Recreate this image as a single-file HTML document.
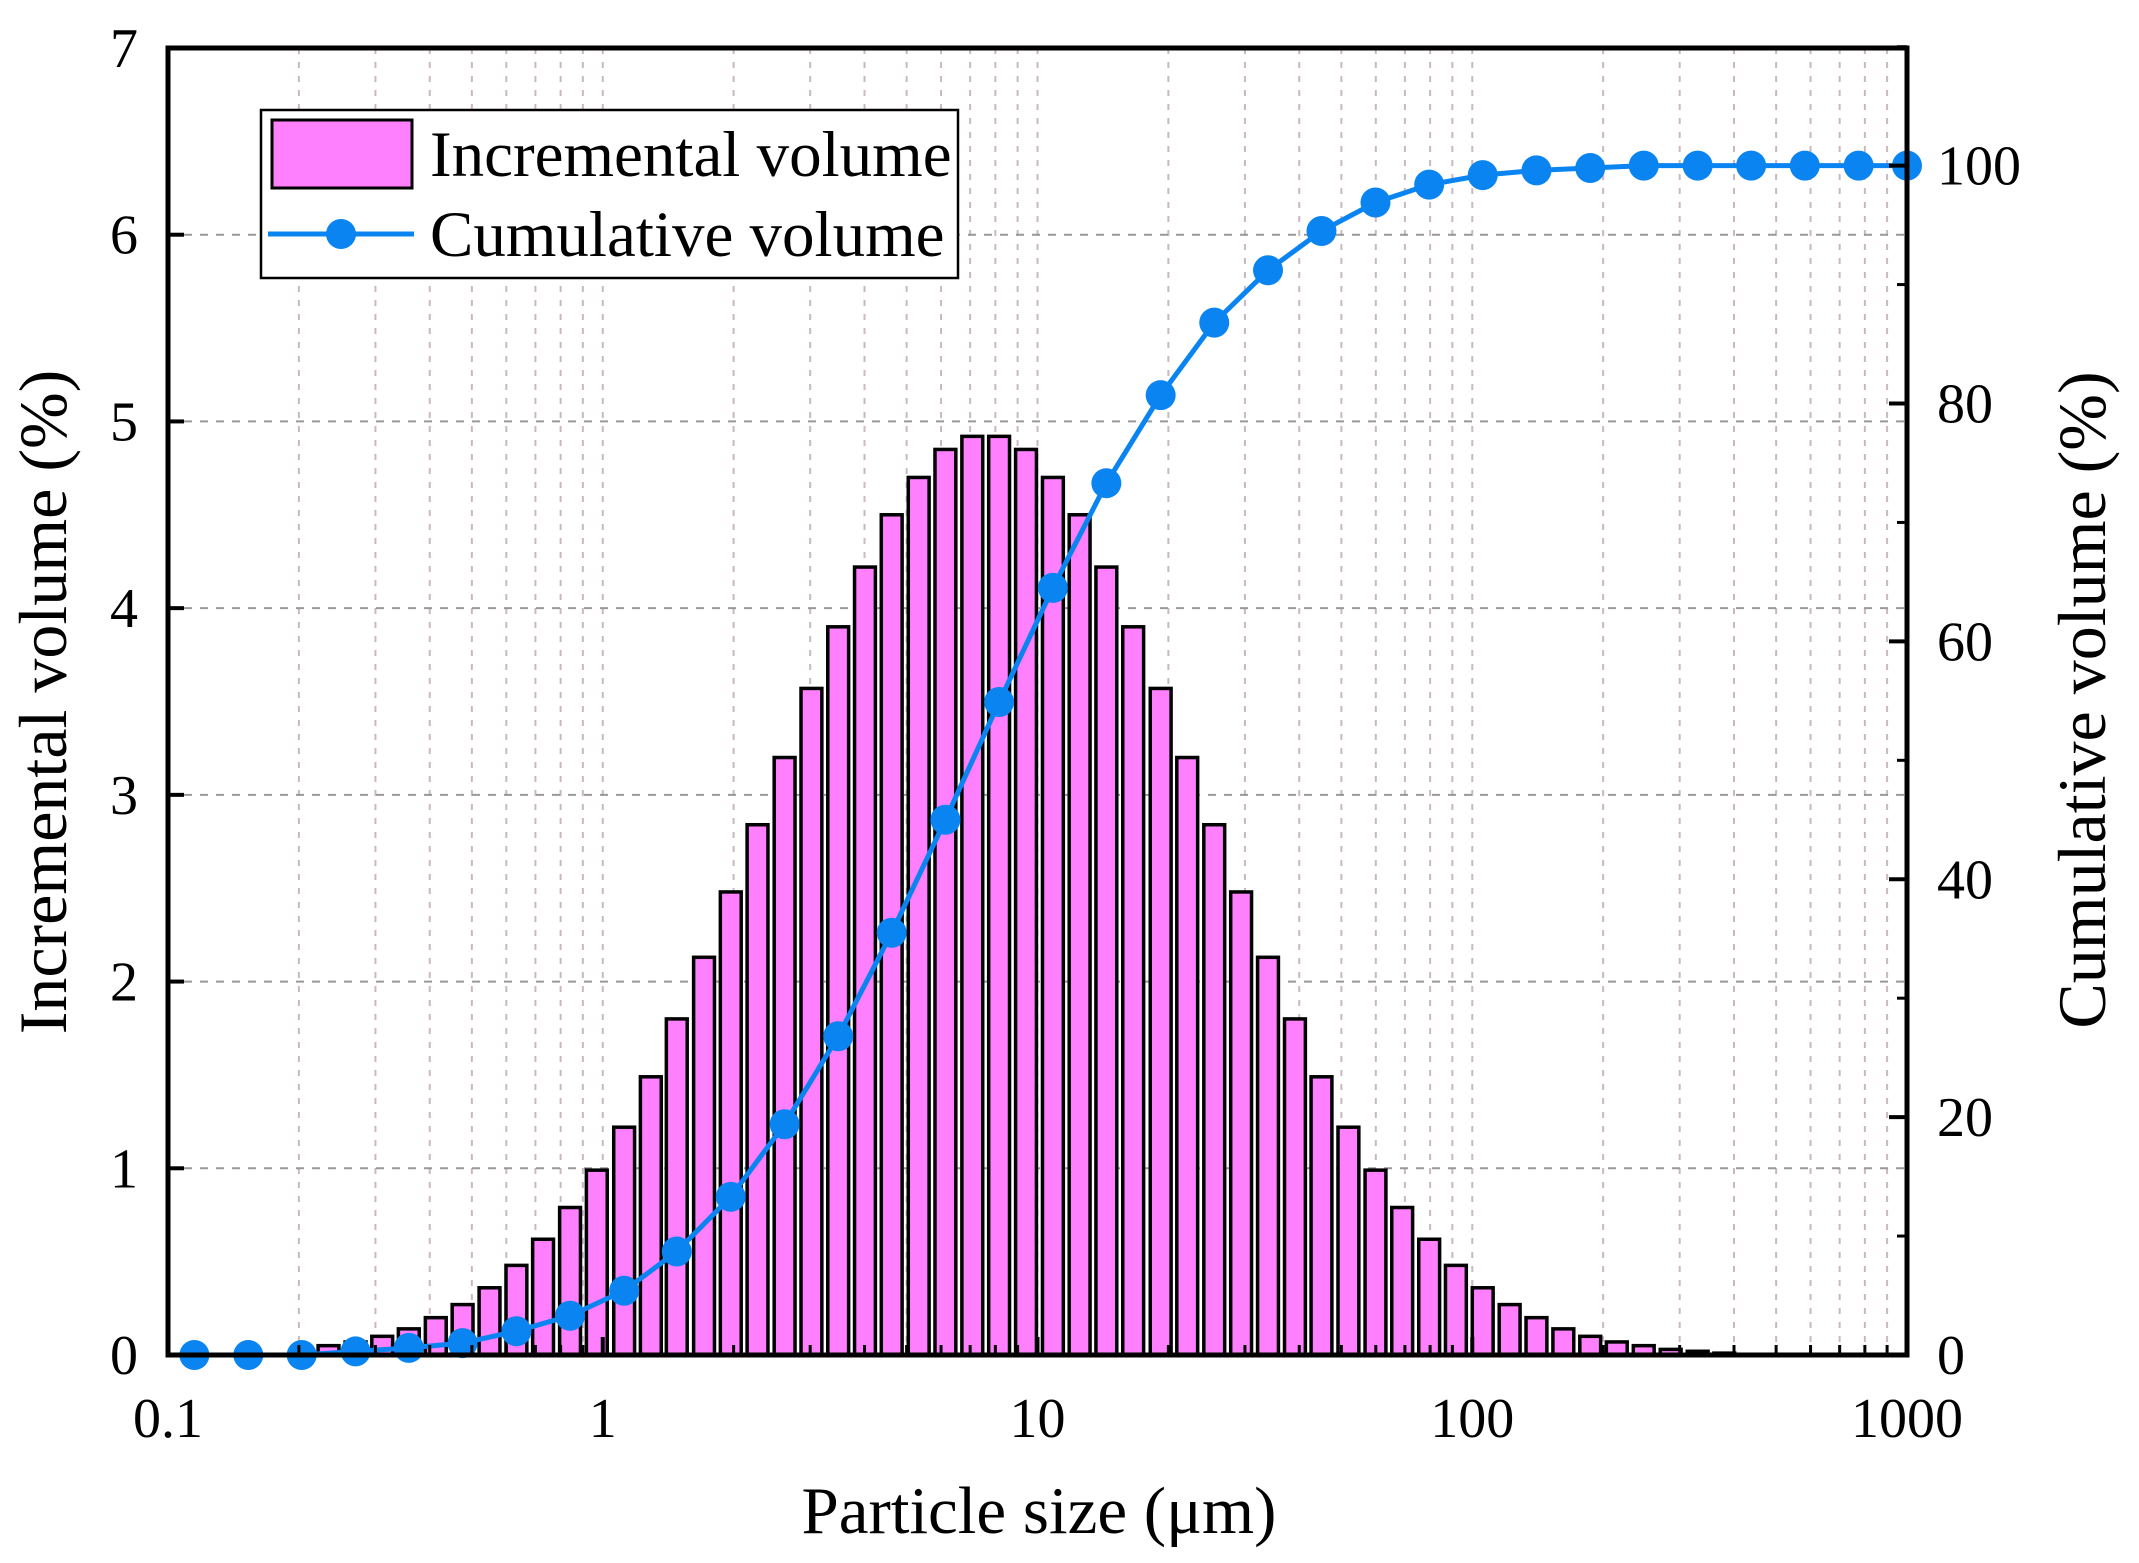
<!DOCTYPE html>
<html><head><meta charset="utf-8"><style>
body{margin:0;background:#fff}
svg{display:block;font-family:"Liberation Serif",serif}
</style></head><body>
<svg id="chart" width="2139" height="1563" viewBox="0 0 2139 1563" xmlns="http://www.w3.org/2000/svg">
<g id="grid"></g>
<g id="bars"></g>
<g id="line"></g>
<g id="axes"></g>
<text x="0" y="0" transform="translate(66,702) rotate(-90)" text-anchor="middle" font-size="68">Incremental volume (%)</text>
<text x="0" y="0" transform="translate(2105,700) rotate(-90)" text-anchor="middle" font-size="68">Cumulative volume (%)</text>
<text x="1039" y="1533" text-anchor="middle" font-size="67">Particle size (μm)</text>
<g>
<rect x="261" y="110" width="697" height="168" fill="#fff" stroke="#000" stroke-width="2.5"/>
<rect x="272" y="120" width="140" height="68" fill="#ff80ff" stroke="#000" stroke-width="3"/>
<text x="430" y="176" font-size="65">Incremental volume</text>
<line x1="268" y1="234" x2="414" y2="234" stroke="#0a84f0" stroke-width="5"/>
<circle cx="341" cy="234" r="15" fill="#0a84f0"/>
<text x="430" y="256" font-size="65">Cumulative volume</text>
</g>
</svg>
<script>
const barSizes=[0.203,0.234,0.270,0.311,0.358,0.413,0.476,0.549,0.633,0.729,0.841,0.969,1.12,1.29,1.48,1.71,1.97,2.27,2.62,3.02,3.48,4.01,4.62,5.33,6.14,7.08,8.16,9.41,10.85,12.5,14.4,16.6,19.2,22.1,25.5,29.4,33.9,39.1,45.0,51.9,59.9,69.0,79.6,91.7,105.7,121.9,140.5,162,186.8,215,248,286,330,380];
const barValues=[0.03,0.05,0.07,0.1,0.14,0.2,0.27,0.36,0.48,0.62,0.79,0.99,1.22,1.49,1.8,2.13,2.48,2.84,3.2,3.57,3.9,4.22,4.5,4.7,4.85,4.92,4.92,4.85,4.7,4.5,4.22,3.9,3.57,3.2,2.84,2.48,2.13,1.8,1.49,1.22,0.99,0.79,0.62,0.48,0.36,0.27,0.2,0.14,0.1,0.07,0.05,0.03,0.02,0.01];
const cumSizes=[0.115,0.153,0.203,0.270,0.358,0.476,0.633,0.841,1.12,1.48,1.97,2.62,3.48,4.62,6.14,8.16,10.85,14.4,19.2,25.5,33.9,45,59.9,79.6,105.7,140.5,186.8,248,330,438,582,774,1000];
const cumValues=[0,0,0,0.3,0.6,1,2,3.3,5.4,8.7,13.3,19.4,26.8,35.5,45,54.9,64.5,73.3,80.7,86.8,91.2,94.5,96.9,98.4,99.2,99.6,99.8,100,100,100,100,100,100];
const xTicks=[0.1,1,10,100,1000];
const xTickLabels=["0.1","1","10","100","1000"];
const yLeftTicks=[0,1,2,3,4,5,6,7];
const yRightTicks=[0,20,40,60,80,100];

const L=168,R=1907,T=48,B=1355;
const x=v=>L+(Math.log10(v)+1)*(R-L)/4;
const yl=v=>B-v*(B-T)/7;
const yr=v=>B-v*(B-yl(6.37))/100;
const NS="http://www.w3.org/2000/svg";
function mk(p,t,a){const e=document.createElementNS(NS,t);for(const k in a)e.setAttribute(k,a[k]);p.appendChild(e);return e;}
const grid=document.getElementById('grid'),bars=document.getElementById('bars'),line=document.getElementById('line'),axes=document.getElementById('axes');
for(let d=-1;d<3;d++)for(let m=1;m<10;m++){const v=m*Math.pow(10,d);if(v<=0.1)continue;const g=mk(grid,'line',{x1:x(v),x2:x(v),y1:T,y2:B,stroke:'#c9b8c0','stroke-width':2,'stroke-dasharray':'6 8'});

}
for(const t of yLeftTicks){if(t==0||t==7)continue;const g=mk(grid,'line',{x1:L,x2:R,y1:yl(t),y2:yl(t),stroke:'#999','stroke-width':2,'stroke-dasharray':'8 8'});

}
const ratio=1.1528;
barSizes.forEach((s,i)=>{const x0=x(s/Math.sqrt(ratio))+3,x1=x(s*Math.sqrt(ratio))-3;const r=mk(bars,'rect',{x:x0,y:yl(barValues[i]),width:Math.max(1,x1-x0),height:B-yl(barValues[i]),fill:'#ff80ff',stroke:'#000','stroke-width':3.5});

});
const pts=cumSizes.map((s,i)=>x(s)+','+yr(cumValues[i])).join(' ');
const pl=mk(line,'polyline',{points:pts,fill:'none',stroke:'#0a84f0','stroke-width':5,'stroke-linejoin':'round'});


cumSizes.forEach((s,i)=>{const c=mk(line,'circle',{cx:x(s),cy:yr(cumValues[i]),r:15,fill:'#0a84f0'});

});
const fr=mk(axes,'rect',{x:L,y:T,width:R-L,height:B-T,fill:'none',stroke:'#000','stroke-width':5});


xTicks.forEach((v,i)=>{mk(axes,'line',{x1:x(v),x2:x(v),y1:B,y2:B-18,stroke:'#000','stroke-width':4});
const t=mk(axes,'text',{x:x(v),y:B+82,'text-anchor':'middle','font-size':56});t.textContent=xTickLabels[i];

});
for(let d=-1;d<3;d++)for(let m=2;m<10;m++){const v=m*Math.pow(10,d);mk(axes,'line',{x1:x(v),x2:x(v),y1:B,y2:B-10,stroke:'#000','stroke-width':3});}
yLeftTicks.forEach(v=>{mk(axes,'line',{x1:L,x2:L+16,y1:yl(v),y2:yl(v),stroke:'#000','stroke-width':4});
const t=mk(axes,'text',{x:L-30,y:yl(v)+19,'text-anchor':'end','font-size':56});t.textContent=v;

});
yRightTicks.forEach(v=>{mk(axes,'line',{x1:R,x2:R-18,y1:yr(v),y2:yr(v),stroke:'#000','stroke-width':4});
mk(axes,'line',{x1:R,x2:R-10,y1:yr(v+10),y2:yr(v+10),stroke:'#000','stroke-width':3});
const t=mk(axes,'text',{x:R+30,y:yr(v)+19,'text-anchor':'start','font-size':56});t.textContent=v;

});
</script>
</body></html>
